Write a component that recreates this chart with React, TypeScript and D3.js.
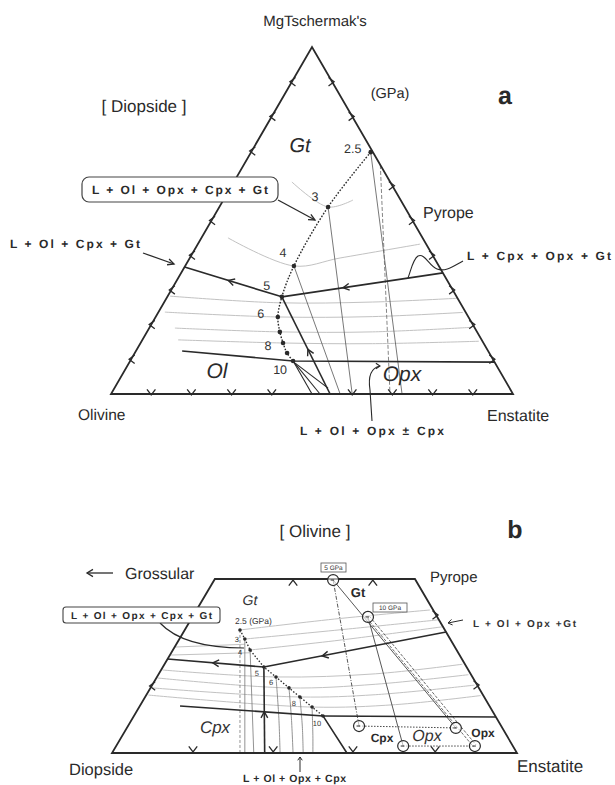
import React from 'react';
import * as d3 from 'd3';

const W = 615, H = 785;

// panel a: percent coordinates inside the triangle (x: Olivine -> Enstatite, y: base -> MgTschermak's)
const pressures = ['2.5', '3', '4', '5', '6', '7', '8', '9', '10'];
const curveA = [[64.6, 69.7], [54.0, 53.9], [45.5, 36.9], [42.5, 28.0], [41.5, 22.2], [42.0, 17.9], [42.8, 14.7], [43.8, 11.8], [45.3, 9.5]];
const triA = [[0, 0], [100, 0], [50, 100]];
const leftCotA = [[42.5, 28.0], [18.3, 36.6]];
const rightCotA = [[82.6, 34.9], [42.5, 28.0]];
const lowCotA = [[54.5, 0], [42.5, 28.0]];
const olBoundA = [[17.7, 12.4], [45.3, 9.5], [95.4, 9.2]];
const wedgeA = [[[45.3, 9.5], [50, 0]], [[45.3, 9.5], [52, 0]], [[45.8, 8.9], [54, 1.7]]];
const tieA = [[[64.6, 69.7], [72.4, 0]], [[54, 53.9], [60, 0]], [[45.5, 36.9], [57, 0]]];
const tieDashA = [[[67, 66], [69.4, 0]]];
const isoA = [
  [[45.0, 61.1], [54.0, 53.9], [60.2, 55.9]],
  [[29.1, 45.0], [45.5, 36.9], [57.0, 39.2], [76.9, 43.2]],
  [[14.7, 28.2], [41.3, 26.3], [65, 26.5], [86.3, 27.6]],
  [[13.4, 23.6], [41.5, 22.2], [65, 22.3], [87.5, 23.5]],
  [[15.9, 19.0], [42.0, 17.9], [65, 17.9], [89.5, 19.2]],
  [[16.7, 15.6], [42.8, 14.7], [65, 14.5], [91.5, 15.2]],
];
const ticksLeftA = [10, 20, 30, 40, 50, 60, 70, 80, 90];
const ticksRightA = [10, 20, 30, 40, 50, 60, 80, 90];
const ticksBaseA = [10, 20, 30, 40, 60, 70, 80, 90];
const labelledA = ['2.5', '3', '4', '5', '6', '8', '10'];

// panel b: percent coordinates inside the trapezoid (x: Diopside -> Enstatite, y: base -> Pyrope side)
const trapB = [[0, 0], [100, 0], [74.8, 100], [25.4, 100]];
const curveB = [[31.6, 70.7], [32.8, 65.5], [34.1, 59.2], [37.5, 49.4], [40.5, 43.7], [43.7, 37.4], [46.4, 32.2], [49.4, 26.4], [52.1, 21.3]];
const leftCotB = [[37.5, 49.4], [13.7, 54.0]];
const rightCotB = [[82.5, 69.5], [37.5, 49.4]];
const vertCotB = [[37.7, 0], [37.5, 49.4]];
const olBoundB = [[16.8, 27.0], [52.1, 21.3], [58.0, 0]];
const horizB = [[52.1, 21.3], [94.8, 20.7]];
const isoB = [
  [[31.6, 70.7], [55, 77], [78.5, 82.2]],
  [[32.8, 65.5], [55, 70.5], [80.5, 76.5]],
  [[34.1, 59.2], [55, 64.5], [81.5, 72.5]],
  [[15.5, 60.9], [32.8, 62.5]],
  [[14.6, 56.3], [34.1, 57.6]],
  [[12.5, 47.7], [40.5, 43.7], [65, 45.5], [86.5, 51]],
  [[11.3, 43.1], [43.7, 37.4], [65, 39.5], [88, 45]],
  [[10, 37.4], [46.4, 32.2], [65, 33.5], [89.5, 39]],
  [[9, 33.3], [49.4, 26.4], [70, 27.8], [91, 33]],
];
const dropB = [
  [[32.8, 65.5], [32.8, 0]],
  [[34.1, 59.2], [35.0, 0]],
  [[40.5, 43.7], [41.2, 20], [41.5, 0]],
  [[43.7, 37.4], [44.3, 20], [44.7, 0]],
  [[46.4, 32.2], [47, 15], [47.2, 0]],
  [[49.4, 26.4], [49.6, 10], [49.6, 0]],
];
const dropDashB = [[[31.6, 70.7], [31.6, 0]]];
const labelledB = ['3', '4', '5', '6', '8', '10'];
const gt5 = [54.6, 99.4], gt10 = [63.2, 78.2];
const cpx5 = [61.0, 15.5], cpx10 = [71.9, 4.0];
const opx5 = [84.9, 14.4], opx10 = [89.6, 4.0];
const ticksTopB = [44.7, 64.4];
const ticksBaseB = [20, 39.8, 59.5, 79.8];
const ticksLeftB = [38.5];
const ticksRightB = [39.1, 79.3];

const xA = d3.scaleLinear().domain([0, 100]).range([111, 513]);
const yA = d3.scaleLinear().domain([0, 100]).range([394, 47]);
const xB = d3.scaleLinear().domain([0, 100]).range([112, 517]);
const yB = d3.scaleLinear().domain([0, 100]).range([753, 579]);

const font = 'Liberation Sans, Arial, Helvetica, sans-serif';
const ink = '#2a2a2a';

function chevron(x: number, y: number, ang: number, s = 6, spread = 0.6) {
  const a1 = ang + Math.PI - spread, a2 = ang + Math.PI + spread;
  return `M${x + s * Math.cos(a1)},${y + s * Math.sin(a1)}L${x},${y}L${x + s * Math.cos(a2)},${y + s * Math.sin(a2)}`;
}

function Panel({ x, y }: any) {
  const line = d3.line<any>().x(d => x(d[0])).y(d => y(d[1]));
  const smooth = d3.line<any>().x(d => x(d[0])).y(d => y(d[1])).curve(d3.curveCatmullRom);
  const arrowOn = (seg: any, t: number, key: string) => {
    const x0 = x(seg[0][0]), y0 = y(seg[0][1]), x1 = x(seg[1][0]), y1 = y(seg[1][1]);
    const ang = Math.atan2(y1 - y0, x1 - x0);
    return <path key={key} d={chevron(x0 + t * (x1 - x0), y0 + t * (y1 - y0), ang, 7, 0.5)} fill="none" stroke={ink} strokeWidth={1.4} />;
  };
  return { line, smooth, arrowOn };
}

export default function App() {
  const A = Panel({ x: xA, y: yA });
  const B = Panel({ x: xB, y: yB });
  const labelOffA: Record<string, number[]> = { '2.5': [-18, -3], '3': [-13, -10], '4': [-11, -13], '5': [-15, -11], '6': [-17, -3], '8': [-15, 3], '10': [-13, 9] };
  const labelOffB: Record<string, number[]> = { '3': [-8, 0], '4': [-10, 3], '5': [-7, 6], '6': [-5, 6], '8': [-6, 7], '10': [-6, 8] };
  const circ = (p: number[], key: string) => (
    <g key={key}>
      <circle cx={xB(p[0])} cy={yB(p[1])} r={5.5} fill="#fff" fillOpacity={0.6} stroke={ink} strokeWidth={1.2} />
      <line x1={xB(p[0]) - 2.5} y1={yB(p[1])} x2={xB(p[0]) + 1} y2={yB(p[1])} stroke={ink} strokeWidth={1} />
    </g>
  );
  const seg = (a: number[], b: number[]) => B.line([a, b]) as string;
  // double dashed tie line Gt10 - Opx10
  const gx0 = xB(gt10[0]), gy0 = yB(gt10[1]), gx1 = xB(opx10[0]), gy1 = yB(opx10[1]);
  const len = Math.hypot(gx1 - gx0, gy1 - gy0);
  const nx = -(gy1 - gy0) / len * 1.6, ny = (gx1 - gx0) / len * 1.6;

  return (
    <svg width={W} height={H} style={{ position: 'absolute', left: 0, top: 0, background: '#fff' }} fontFamily={font} textRendering="geometricPrecision">
      {/* ---------- panel a ---------- */}
      <g>
        {isoA.map((d, i) => <path key={'ia' + i} d={A.smooth(d) as string} fill="none" stroke="#c2c2c2" strokeWidth={1} />)}
        {tieA.map((d, i) => <path key={'ta' + i} d={A.line(d) as string} fill="none" stroke="#555" strokeWidth={0.8} />)}
        {tieDashA.map((d, i) => <path key={'td' + i} d={A.line(d) as string} fill="none" stroke="#666" strokeWidth={0.8} strokeDasharray="4,2" />)}
        <path d={A.line(triA) + 'Z'} fill="none" stroke={ink} strokeWidth={1.8} />
        {ticksLeftA.map(f => <path key={'tl' + f} d={chevron(xA(f / 2) - 2, yA(f), Math.PI, 7, 0.65)} fill="none" stroke={ink} strokeWidth={1.3} />)}
        {ticksRightA.map(f => <path key={'tr' + f} d={chevron(xA(100 - f / 2) + 2, yA(f), 0, 7, 0.65)} fill="none" stroke={ink} strokeWidth={1.3} />)}
        {ticksBaseA.map(f => <path key={'tb' + f} d={chevron(xA(f), yA(0) + 1, Math.PI / 2, 7, 0.65)} fill="none" stroke={ink} strokeWidth={1.3} />)}
        <path d={A.line(leftCotA) as string} fill="none" stroke={ink} strokeWidth={1.6} />
        <path d={A.line(rightCotA) as string} fill="none" stroke={ink} strokeWidth={1.6} />
        <path d={A.line(lowCotA) as string} fill="none" stroke={ink} strokeWidth={1.6} />
        <path d={A.line(olBoundA) as string} fill="none" stroke={ink} strokeWidth={1.6} />
        {wedgeA.map((d, i) => <path key={'w' + i} d={A.line(d) as string} fill="none" stroke={ink} strokeWidth={1.1} />)}
        {A.arrowOn(leftCotA, 0.55, 'al')}
        {A.arrowOn(rightCotA, 0.62, 'ar')}
        {A.arrowOn(lowCotA, 0.46, 'au')}
        <path d={A.smooth(curveA) as string} fill="none" stroke={ink} strokeWidth={1.4} strokeDasharray="1.6,1.6" />
        {curveA.map((p, i) => <circle key={'pa' + i} cx={xA(p[0])} cy={yA(p[1])} r={2.3} fill={ink} />)}
        {curveA.map((p, i) => labelledA.includes(pressures[i]) ? (
          <text key={'la' + i} x={xA(p[0]) + labelOffA[pressures[i]][0]} y={yA(p[1]) + labelOffA[pressures[i]][1]}
            fontSize={12.5} fill="#333" textAnchor="middle" dominantBaseline="central">{pressures[i]}</text>
        ) : null)}
        {/* annotations */}
        <path d="M278,200 L315,220" stroke={ink} strokeWidth={1.3} />
        <path d={chevron(315, 220, Math.atan2(20, 37), 7, 0.45)} fill="none" stroke={ink} strokeWidth={1.3} />
        <rect x={82} y={177} width={196} height={25} rx={7} fill="#fff" stroke="#444" strokeWidth={1.2} />
        <text x={180} y={194} fontSize={12} fontWeight="bold" textAnchor="middle" fill={ink} textLength={176} lengthAdjust="spacing">L + Ol + Opx + Cpx + Gt</text>
        <text x={10} y={248} fontSize={12} fontWeight="bold" fill={ink} textLength={130} lengthAdjust="spacing">L + Ol + Cpx + Gt</text>
        <path d="M143,253 L174,264" stroke={ink} strokeWidth={1.3} />
        <path d={chevron(174, 264, Math.atan2(11, 31), 7, 0.45)} fill="none" stroke={ink} strokeWidth={1.3} />
        <text x={467} y={260} fontSize={12} fontWeight="bold" fill={ink} textLength={144} lengthAdjust="spacing">L + Cpx + Opx  + Gt</text>
        <path d="M463,261 C452,267 445,272 437,269 C429,266 425,253 418,256 C413,259 411,270 408,278" fill="none" stroke={ink} strokeWidth={1.1} />
        <text x={300} y={435} fontSize={12} fontWeight="bold" fill={ink} textLength={144} lengthAdjust="spacing">L + Ol + Opx  ± Cpx</text>
        <path d="M372,421 L370,390 C368,377 371,368 380,366" fill="none" stroke={ink} strokeWidth={1.1} />
        <path d={chevron(380, 366, 0, 5, 0.6)} fill="none" stroke={ink} strokeWidth={1.1} />
        <text x={315} y={26} fontSize={15} textAnchor="middle" fill={ink}>MgTschermak's</text>
        <text x={505} y={104} fontSize={25} fontWeight="bold" textAnchor="middle" fill={ink}>a</text>
        <text x={390} y={98} fontSize={14.5} textAnchor="middle" fill={ink}>(GPa)</text>
        <text x={144} y={112} fontSize={17} textAnchor="middle" fill={ink}>[ Diopside ]</text>
        <text x={300} y={152} fontSize={20} fontStyle="italic" textAnchor="middle" fill={ink}>Gt</text>
        <text x={423} y={218} fontSize={16} fill={ink}>Pyrope</text>
        <text x={78} y={420} fontSize={15.5} fill={ink}>Olivine</text>
        <text x={487} y={421} fontSize={16} fill={ink}>Enstatite</text>
        <text x={217} y={378} fontSize={21} fontStyle="italic" textAnchor="middle" fill={ink}>Ol</text>
        <text x={402} y={381} fontSize={21} fontStyle="italic" textAnchor="middle" fill={ink}>Opx</text>
      </g>

      {/* ---------- panel b ---------- */}
      <g>
        {isoB.map((d, i) => <path key={'ib' + i} d={B.smooth(d) as string} fill="none" stroke="#c2c2c2" strokeWidth={1} />)}
        {dropB.map((d, i) => <path key={'db' + i} d={B.smooth(d) as string} fill="none" stroke="#777" strokeWidth={0.8} />)}
        {dropDashB.map((d, i) => <path key={'dd' + i} d={B.line(d) as string} fill="none" stroke="#777" strokeWidth={0.8} strokeDasharray="3,2" />)}
        <path d={B.line(trapB) + 'Z'} fill="none" stroke={ink} strokeWidth={1.8} />
        {ticksTopB.map(f => <path key={'tt' + f} d={chevron(xB(f), yB(100) + 1, -Math.PI / 2, 7, 0.65)} fill="none" stroke={ink} strokeWidth={1.3} />)}
        {ticksBaseB.map(f => <path key={'bb' + f} d={chevron(xB(f), yB(0) - 1, Math.PI / 2, 7, 0.65)} fill="none" stroke={ink} strokeWidth={1.3} />)}
        {ticksLeftB.map(f => <path key={'lb' + f} d={chevron(xB(f * 0.254) - 2, yB(f), Math.PI, 7, 0.65)} fill="none" stroke={ink} strokeWidth={1.3} />)}
        {ticksRightB.map(f => <path key={'rb' + f} d={chevron(xB(100 - f * 0.252) + 2, yB(f), 0, 7, 0.65)} fill="none" stroke={ink} strokeWidth={1.3} />)}
        {/* tie lines */}
        <path d={seg(gt5, cpx5)} fill="none" stroke="#444" strokeWidth={0.9} strokeDasharray="4,1.5,1,1.5" />
        <path d={seg(gt5, opx5)} fill="none" stroke="#444" strokeWidth={0.9} />
        <path d={seg(gt10, cpx10)} fill="none" stroke="#444" strokeWidth={0.9} />
        <path d={`M${gx0 + nx},${gy0 + ny}L${gx1 + nx},${gy1 + ny}M${gx0 - nx},${gy0 - ny}L${gx1 - nx},${gy1 - ny}`} fill="none" stroke="#444" strokeWidth={0.8} strokeDasharray="3,1.5" />
        <path d={seg(cpx5, opx5)} fill="none" stroke="#444" strokeWidth={1} strokeDasharray="1.5,1.5" />
        <path d={seg(cpx10, opx10)} fill="none" stroke="#444" strokeWidth={1} strokeDasharray="1.5,1.5" />
        <path d={B.line(leftCotB) as string} fill="none" stroke={ink} strokeWidth={1.6} />
        <path d={B.line(rightCotB) as string} fill="none" stroke={ink} strokeWidth={1.6} />
        <path d={B.line(vertCotB) as string} fill="none" stroke={ink} strokeWidth={1.6} />
        <path d={B.line(olBoundB) as string} fill="none" stroke={ink} strokeWidth={1.6} />
        <path d={B.line(horizB) as string} fill="none" stroke={ink} strokeWidth={1.6} />
        {B.arrowOn(leftCotB, 0.53, 'bl')}
        {B.arrowOn(rightCotB, 0.68, 'br')}
        {B.arrowOn(vertCotB, 0.48, 'bu')}
        <path d={B.line(curveB) as string} fill="none" stroke={ink} strokeWidth={1.3} strokeDasharray="1.5,1.8" />
        {curveB.map((p, i) => <circle key={'pb' + i} cx={xB(p[0])} cy={yB(p[1])} r={1.8} fill={ink} />)}
        {curveB.map((p, i) => labelledB.includes(pressures[i]) ? (
          <text key={'lb' + i} x={xB(p[0]) + labelOffB[pressures[i]][0]} y={yB(p[1]) + labelOffB[pressures[i]][1]}
            fontSize={7.5} fill="#333" textAnchor="middle" dominantBaseline="central">{pressures[i]}</text>
        ) : null)}
        <text x={235} y={624} fontSize={8.5} fill="#333">2.5 (GPa)</text>
        {[gt5, gt10, cpx5, cpx10, opx5, opx10].map((p, i) => circ(p, 'c' + i))}
        <rect x={321} y={563} width={25} height={9} fill="#fff" stroke="#555" strokeWidth={0.8} />
        <text x={333.5} y={570} fontSize={6.5} textAnchor="middle" fill="#333">5 GPa</text>
        <rect x={373} y={603} width={34} height={9} fill="#fff" stroke="#555" strokeWidth={0.8} />
        <text x={390} y={610} fontSize={6.5} textAnchor="middle" fill="#333">10 GPa</text>
        {/* annotations */}
        <path d="M160,623 C176,640 205,648 244,648" fill="none" stroke={ink} strokeWidth={1.2} />
        <rect x={63} y={607} width={157} height={16} rx={3} fill="#fff" stroke="#444" strokeWidth={1.1} />
        <text x={141.5} y={619} fontSize={10} fontWeight="bold" textAnchor="middle" fill={ink} textLength={141} lengthAdjust="spacing">L + Ol + Opx + Cpx + Gt</text>
        <text x={473} y={627} fontSize={10} fontWeight="bold" fill="#333" textLength={103} lengthAdjust="spacing">L + Ol + Opx +Gt</text>
        <path d="M463,620 L448,623" stroke={ink} strokeWidth={1} />
        <path d={chevron(448, 623, Math.atan2(3, -15), 5, 0.6)} fill="none" stroke={ink} strokeWidth={1} />
        <text x={243} y={782} fontSize={10.5} fontWeight="bold" fill={ink} textLength={103} lengthAdjust="spacing">L + Ol + Opx + Cpx</text>
        <path d="M300,772 L300,757" stroke={ink} strokeWidth={1} />
        <path d={chevron(300, 757, -Math.PI / 2, 4, 0.6)} fill="none" stroke={ink} strokeWidth={1} />
        <text x={315} y={537} fontSize={17} textAnchor="middle" fill={ink}>[ Olivine ]</text>
        <text x={515} y={538} fontSize={25} fontWeight="bold" textAnchor="middle" fill={ink}>b</text>
        <path d="M87,573 L113,573" stroke={ink} strokeWidth={1.3} />
        <path d={chevron(87, 573, Math.PI, 7, 0.55)} fill="none" stroke={ink} strokeWidth={1.3} />
        <text x={125} y={579} fontSize={16} fill={ink}>Grossular</text>
        <text x={430} y={582} fontSize={15} fill={ink}>Pyrope</text>
        <text x={69} y={775} fontSize={16.5} fill={ink}>Diopside</text>
        <text x={517} y={772} fontSize={17} fill={ink}>Enstatite</text>
        <text x={250} y={605} fontSize={14} fontStyle="italic" textAnchor="middle" fill="#333">Gt</text>
        <text x={358} y={597} fontSize={13} fontWeight="bold" textAnchor="middle" fill={ink}>Gt</text>
        <text x={215} y={733} fontSize={17} fontStyle="italic" textAnchor="middle" fill="#333">Cpx</text>
        <text x={382} y={742} fontSize={12} fontWeight="bold" textAnchor="middle" fill={ink}>Cpx</text>
        <text x={427} y={741} fontSize={16} fontStyle="italic" textAnchor="middle" fill="#333">Opx</text>
        <text x={483} y={737} fontSize={12} fontWeight="bold" textAnchor="middle" fill={ink}>Opx</text>
      </g>
    </svg>
  );
}
